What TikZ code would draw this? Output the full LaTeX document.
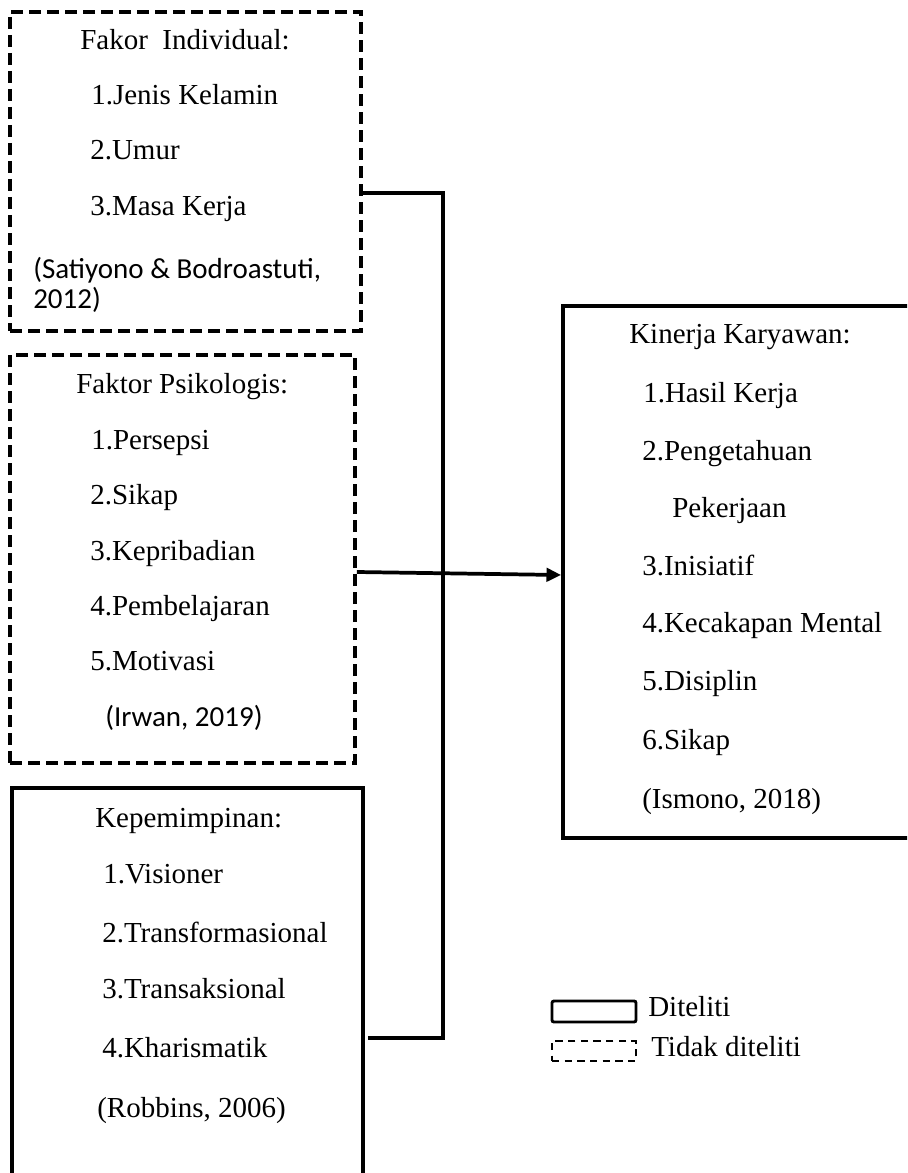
\documentclass[tikz,border=0pt]{standalone}
\usepackage{fontspec}
\setmainfont{Liberation Serif}
\newfontfamily\calfont{Carlito}
\usetikzlibrary{arrows.meta,fit}
\begin{document}
\begin{tikzpicture}[x=0.75pt,y=-0.75pt,
  lbl/.style={anchor=base west, inner sep=0pt, font=\fontsize{21.75}{26}\selectfont},
  cite/.style={anchor=base west, inner sep=0pt, font=\calfont\fontsize{21.75}{26}\selectfont},
  dbox/.style={draw, line width=2.8pt, dash pattern=on 9pt off 4.5pt, inner sep=0pt},
  sbox/.style={draw, line width=2.8pt, inner sep=0pt},
  conn/.style={line width=2.8pt},
  legs/.style={draw, line width=2.2pt, rounded corners=1.5pt, inner sep=0pt},
  legd/.style={draw, line width=1.5pt, dash pattern=on 5.5pt off 4pt, inner sep=0pt},
]
\useasboundingbox (0,0) rectangle (907,1173);
\clip (0,0) rectangle (907,1173);
\fill[white] (0,0) rectangle (907,1173);

% boxes
\node[dbox, fit={(10,12) (361,331)}] (b1) {};
\node[dbox, fit={(10,355) (355,763)}] (b2) {};
\node[sbox, fit={(12,788) (363,1200)}] (b3) {};
\node[sbox, fit={(563,306) (940,838)}] (b4) {};

% box 1 text
\node[lbl] (t11) at (80,50) {Fakor\ \ Individual:};
\node[lbl] (t12) at (91,105) {1.Jenis Kelamin};
\node[lbl] (t13) at (90,160) {2.Umur};
\node[lbl] (t14) at (90,215) {3.Masa Kerja};
\node[cite] (t15) at (33,278) {(Satiyono \& Bodroastuti,};
\node[cite] (t16) at (33,308) {2012)};

% box 2 text
\node[lbl] (t21) at (76,393) {Faktor Psikologis:};
\node[lbl] (t22) at (91,449) {1.Persepsi};
\node[lbl] (t23) at (90,504) {2.Sikap};
\node[lbl] (t24) at (90,560) {3.Kepribadian};
\node[lbl] (t25) at (90,615) {4.Pembelajaran};
\node[lbl] (t26) at (90,670) {5.Motivasi};
\node[cite] (t27) at (105,726) {(Irwan, 2019)};

% box 3 text
\node[lbl] (t31) at (95,827) {Kepemimpinan:};
\node[lbl] (t32) at (103,883) {1.Visioner};
\node[lbl] (t33) at (102,942) {2.Transformasional};
\node[lbl] (t34) at (102,998) {3.Transaksional};
\node[lbl] (t35) at (102,1057) {4.Kharismatik};
\node[lbl] (t36) at (97,1117) {(Robbins, 2006)};

% box 4 text
\node[lbl] (t41) at (629,343) {Kinerja Karyawan:};
\node[lbl] (t42) at (643,402) {1.Hasil Kerja};
\node[lbl] (t43) at (642,460) {2.Pengetahuan};
\node[lbl] (t44) at (672,517) {Pekerjaan};
\node[lbl] (t45) at (642,575) {3.Inisiatif};
\node[lbl] (t46) at (642,632) {4.Kecakapan Mental};
\node[lbl] (t47) at (642,690) {5.Disiplin};
\node[lbl] (t48) at (642,749) {6.Sikap};
\node[lbl] (t49) at (642,808) {(Ismono, 2018)};

% connectors
\coordinate (j1) at (443,193);
\coordinate (j3) at (443,1038);
\coordinate (a1) at (0,572);
\coordinate (a2) at (0,575);
\draw[conn] (b1.east |- j1) -- (j1) -- (j3) -- ([xshift=2pt]b3.east |- j3);
\draw[conn, -{Triangle[length=11pt,width=10pt]}] (b2.east |- a1) -- (b4.west |- a2);

% legend
\node[legs, fit={(552,1001) (636,1022)}] (l1) {};
\node[legd, fit={(552,1041) (636,1061)}] (l2) {};
\node[lbl] (l1t) at (648,1016) {Diteliti};
\node[lbl] (l2t) at (651,1056) {Tidak diteliti};
\end{tikzpicture}
\end{document}
